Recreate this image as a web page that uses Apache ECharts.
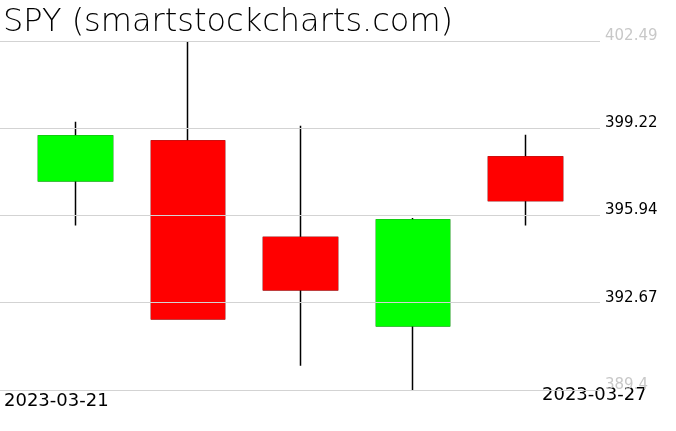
<!DOCTYPE html>
<html>
<head>
<meta charset="utf-8">
<script src="https://cdn.jsdelivr.net/npm/echarts@6/dist/echarts.min.js"></script>
<style>
html,body{margin:0;padding:0;background:#fff;}
#chart{width:676px;height:431px;}
</style>
</head>
<body>
<div id="chart"></div>
<script>
const titleText = 'SPY (smartstockcharts.com)';
const dates = ['2023-03-21', '2023-03-22', '2023-03-23', '2023-03-24', '2023-03-27'];
const opens = [397.25, 398.74, 395.12, 391.81, 398.14];
const closes = [398.93, 392.07, 393.16, 395.78, 396.51];
const lows = [395.57, 392.05, 390.31, 389.40, 395.57];
const highs = [399.46, 402.49, 399.31, 395.85, 398.97];
const yTickLabels = ['389.4', '392.67', '395.94', '399.22', '402.49'];
const yMin = 389.4;
const yMax = 402.49;

const UP = '#00ff00', DOWN = '#ff0000';
const candleData = dates.map((d, i) => [opens[i], closes[i], lows[i], highs[i]]);
const bodyData = dates.map((d, i) => [opens[i], closes[i], Math.min(opens[i], closes[i]), Math.max(opens[i], closes[i])]);
const interval = (yMax - yMin) / (yTickLabels.length - 1);

const chart = echarts.init(document.getElementById('chart'), null, {renderer: 'canvas'});
chart.setOption({
  animation: false,
  backgroundColor: '#fff',
  title: {
    text: titleText,
    left: 3,
    top: 7,
    padding: 0,
    textStyle: {fontFamily: 'DejaVu Sans', fontSize: 32, fontWeight: 200, color: '#000'}
  },
  grid: [
    {left: 0, top: 41, width: 600, height: 349},
    {left: 19.25, top: 41, width: 562.5, height: 349}
  ],
  xAxis: [
    {type: 'value', gridIndex: 0, min: 0, max: 1, show: false},
    {type: 'category', gridIndex: 1, data: dates, boundaryGap: true, show: false}
  ],
  yAxis: [
    {
      type: 'value', gridIndex: 0, position: 'right', min: yMin, max: yMax, interval: interval,
      z: 10,
      axisLine: {show: false}, axisTick: {show: false},
      splitLine: {show: true, lineStyle: {color: '#d3d3d3', width: 1}},
      axisLabel: {
        margin: 5, align: 'left', verticalAlign: 'bottom',
        fontFamily: 'DejaVu Sans', fontSize: 15, lineHeight: 10,
        formatter: (v, i) => yTickLabels[i],
        color: (v, i) => (i === 0 || i === yTickLabels.length - 1) ? '#c8c8c8' : '#000'
      }
    },
    {type: 'value', gridIndex: 1, min: yMin, max: yMax, show: false, splitLine: {show: false}}
  ],
  graphic: [
    {type: 'text', left: 4, top: 392, style: {text: dates[0], font: '18px "DejaVu Sans"', fill: '#000'}},
    {type: 'text', left: 542, top: 386, style: {text: dates[dates.length - 1], font: '18px "DejaVu Sans"', fill: '#000'}}
  ],
  series: [
    {
      type: 'candlestick', xAxisIndex: 1, yAxisIndex: 1, data: candleData, barWidth: 74,
      itemStyle: {color: UP, color0: DOWN, borderColor: '#000', borderColor0: '#000', borderWidth: 1.5},
      emphasis: {disabled: true}
    },
    {
      type: 'candlestick', xAxisIndex: 1, yAxisIndex: 1, data: bodyData, barWidth: 74,
      itemStyle: {color: UP, color0: DOWN, borderColor: UP, borderColor0: DOWN, borderWidth: 1.5},
      emphasis: {disabled: true}
    }
  ]
});
</script>
</body>
</html>
